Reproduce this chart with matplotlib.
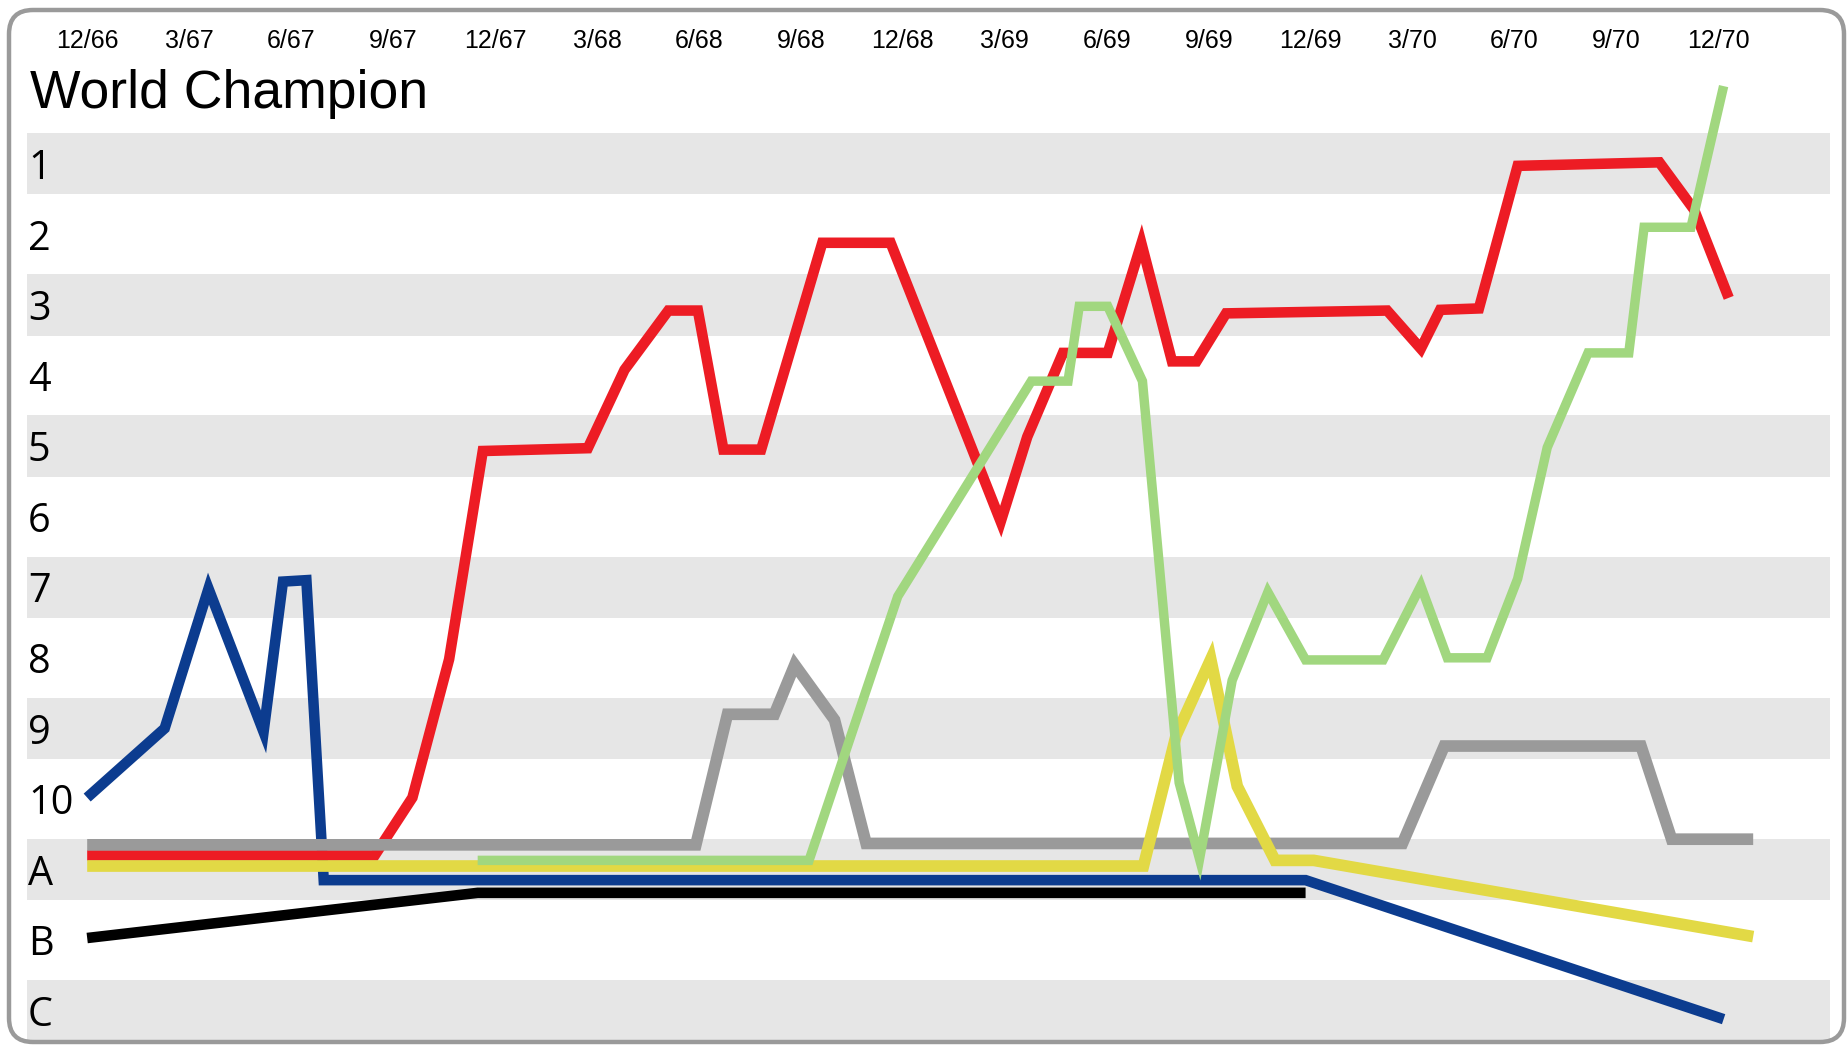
import matplotlib
matplotlib.use("Agg")
import matplotlib.pyplot as plt
from matplotlib.patches import FancyBboxPatch
from matplotlib.transforms import IdentityTransform, blended_transform_factory

# quarters since 12/66 on x, rank on y (A=11, B=12, C=13)
quarters = ["12/66", "3/67", "6/67", "9/67", "12/67", "3/68", "6/68", "9/68",
            "12/68", "3/69", "6/69", "9/69", "12/69", "3/70", "6/70", "9/70", "12/70"]
rank_labels = ["1", "2", "3", "4", "5", "6", "7", "8", "9", "10", "A", "B", "C"]

blue_x = [0, 0.76, 1.19, 1.73, 1.92, 2.15, 2.32, 11.95, 16.05]
blue_y = [9.98, 9.0, 7.02, 9.05, 6.92, 6.9, 11.15, 11.15, 13.12]

black_x = [0, 3.83, 11.95]
black_y = [11.97, 11.33, 11.33]

gray_x = [0, 5.97, 6.28, 6.74, 6.94, 7.33, 7.64, 12.9, 13.31, 15.24, 15.54, 16.34]
gray_y = [10.65, 10.65, 8.8, 8.8, 8.1, 8.88, 10.63, 10.63, 9.25, 9.25, 10.57, 10.57]

yellow_x = [0, 10.36, 10.68, 11.02, 11.28, 11.65, 12.03, 16.34]
yellow_y = [10.95, 10.95, 9.1, 8.02, 9.82, 10.87, 10.87, 11.95]

green_x = [3.83, 7.08, 7.95, 9.26, 9.62, 9.73, 10.01, 10.35, 10.71, 10.91, 11.23,
           11.58, 11.95, 12.71, 13.08, 13.34, 13.73, 14.03, 14.32, 14.72, 15.12,
           15.27, 15.73, 16.05]
green_y = [10.87, 10.87, 7.13, 4.08, 4.08, 3.02, 3.02, 4.08, 9.77, 10.85, 8.32,
           7.07, 8.03, 8.03, 6.98, 8.0, 8.0, 6.88, 5.02, 3.68, 3.68,
           1.9, 1.9, -0.1]

red_x = [0, 2.82, 3.19, 3.55, 3.88, 4.91, 5.27, 5.7, 5.99, 6.24, 6.61, 7.21, 7.88,
         8.96, 9.22, 9.57, 10.01, 10.34, 10.64, 10.88, 11.17, 12.75, 13.08, 13.27,
         13.65, 14.03, 15.42, 15.76, 16.1]
red_y = [10.8, 10.8, 9.98, 8.02, 5.07, 5.03, 3.92, 3.08, 3.08, 5.05, 5.05, 2.12, 2.12,
         6.07, 4.87, 3.68, 3.68, 2.13, 3.8, 3.8, 3.12, 3.08, 3.62, 3.07,
         3.05, 1.03, 0.98, 1.65, 2.9]


def main():
    fig = plt.figure(figsize=(18.48, 10.46), dpi=100)
    ax = fig.add_axes([0, 0, 1, 1])
    ax.set_xlim(-0.855, 17.27)
    ax.set_ylim(13.5, -1.32)
    ax.axis("off")

    # alternating grey bands
    for r in range(1, 14, 2):
        ax.axhspan(r - 0.435, r + 0.435, xmin=0.0146, xmax=0.990,
                   color="#e6e6e6", zorder=0, lw=0)

    series = [
        (black_x, black_y, "#000000", 7.6),
        (blue_x, blue_y, "#0c3c8f", 7.6),
        (red_x, red_y, "#ed1c24", 7.6),
        (gray_x, gray_y, "#9a9a9a", 8.4),
        (yellow_x, yellow_y, "#e2d945", 8.4),
        (green_x, green_y, "#a1d77f", 6.8),
    ]
    for i, (xs, ys, c, lw) in enumerate(series):
        ax.plot(xs, ys, color=c, linewidth=lw, solid_joinstyle="miter",
                solid_capstyle="butt", zorder=2 + i)

    sans = ["Liberation Sans", "DejaVu Sans"]

    top = blended_transform_factory(ax.transData, fig.transFigure)
    for i, lab in enumerate(quarters):
        ax.text(i, 1 - 41 / 1046, lab, transform=top, ha="center", va="center",
                fontsize=18, family=sans)

    left = blended_transform_factory(fig.transFigure, ax.transData)
    for i, lab in enumerate(rank_labels):
        ax.text(28 / 1848, i + 1.07, lab, transform=left, ha="left", va="center",
                fontsize=28.5, family=["Open Sans", "DejaVu Sans"])

    fig.text(30 / 1848, 1 - 94 / 1046, "World Champion", ha="left", va="center",
             fontsize=38.5, family=sans)

    frame = FancyBboxPatch((9, 4), 1835, 1032,
                           boxstyle="round,pad=0,rounding_size=24",
                           transform=IdentityTransform(), facecolor="none",
                           edgecolor="#9a9a9a", linewidth=3.2, zorder=20)
    fig.add_artist(frame)

    plt.savefig("out.png", dpi=100)


if __name__ == "__main__":
    main()
